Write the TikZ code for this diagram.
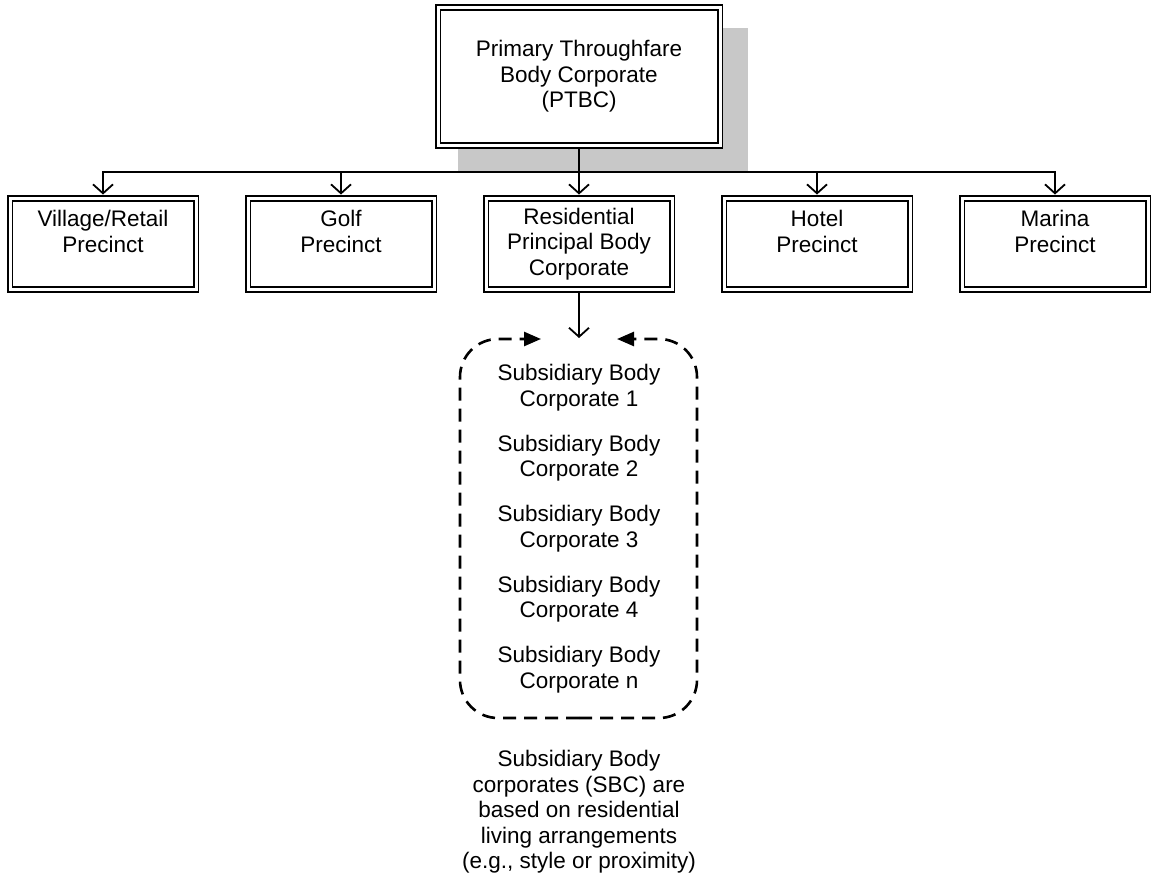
\documentclass[tikz,border=0pt]{standalone}
\usepackage{fontspec}
\setmainfont{Liberation Sans}
\usetikzlibrary{arrows.meta}
\usetikzlibrary{backgrounds}
\usetikzlibrary{calc}

\definecolor{shadowgray}{RGB}{200,200,200}

\tikzset{
	every node/.style={font=\fontsize{22.5pt}{25.5pt}\selectfont},
	orgbox/.style={draw, fill=white, double, double distance=3pt, line width=1.9pt, align=center,
		minimum width=186pt, minimum height=91pt, inner sep=1pt},
	link/.style={line width=1.8pt, shorten <=3pt, shorten >=3pt,
		-{Straight Barb[length=9pt,width=20pt]}},
	sbcframe/.style={line width=2.6pt, dash pattern=on 13pt off 8pt, rounded corners=38pt,
		-{Triangle[length=17pt,width=14pt]}},
}

\begin{document}
\begin{tikzpicture}[x=1pt,y=-1pt]
	\useasboundingbox (0,0) rectangle (1151,888);

	%Top body corporate
	\node[orgbox, minimum width=282pt, minimum height=138pt] (ptbc) at (579,76.5)
		{Primary Throughfare\\Body Corporate\\(PTBC)};
	\begin{scope}[on background layer]
		\fill[shadowgray] ($(ptbc.north west)+(21,21.5)$) rectangle ($(ptbc.south east)+(27,24.5)$);
	\end{scope}

	%Precincts
	\node[orgbox] (village) at (103,244) {Village/Retail\\Precinct\\\mbox{}};
	\node[orgbox] (golf) at (341,244) {Golf\\Precinct\\\mbox{}};
	\node[orgbox] (resid) at (579,244) {Residential\\Principal Body\\Corporate};
	\node[orgbox] (hotel) at (817,244) {Hotel\\Precinct\\\mbox{}};
	\node[orgbox] (marina) at (1055,244) {Marina\\Precinct\\\mbox{}};

	\coordinate (bus) at (579,172);
	\draw[link] (ptbc.south) -- (resid.north);
	\foreach \n in {village,golf,hotel,marina}
		\draw[link] (ptbc.south) |- (bus -| \n.north) -- (\n.north);

	%Subsidiary bodies
	\foreach \i/\lab in {1/1,2/2,3/3,4/4,5/n}
		\node[align=center] (sbc\i) at (579,{387.5+70.6*(\i-1)}) {Subsidiary Body\\Corporate \lab};

	\coordinate (frtop) at (579,339);
	\coordinate (frbot) at (579,718);
	\coordinate (frsw) at (460,718);
	\coordinate (frnw) at (460,339);
	\coordinate (frse) at (697,718);
	\coordinate (frne) at (697,339);
	\coordinate (tipl) at (541,339);
	\coordinate (tipr) at (617,339);
	\draw[sbcframe] (frbot) -- (frsw) -- (frnw) -- (tipl);
	\draw[sbcframe] (frbot) -- (frse) -- (frne) -- (tipr);
	\draw[link, shorten >=1pt] (resid.south) -- (frtop);

	\node[align=center] (note) at (579,812)
		{Subsidiary Body\\corporates (SBC) are\\based on residential\\living arrangements\\(e.g., style or proximity)};
\end{tikzpicture}
\end{document}
